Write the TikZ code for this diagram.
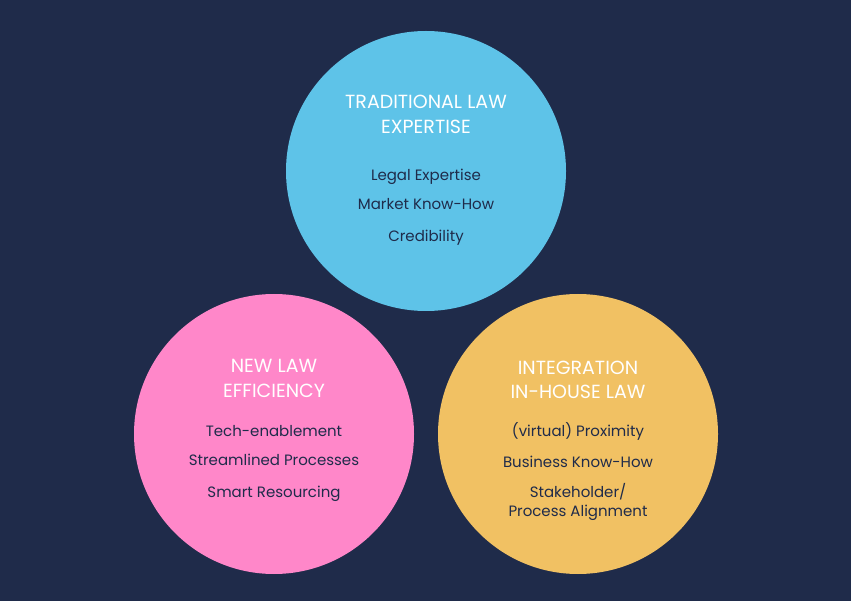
\documentclass[tikz,border=0pt]{standalone}
\usepackage{fontspec}
\setmainfont{Poppins}
\usetikzlibrary{positioning}
\definecolor{bgnavy}{RGB}{31,43,74}
\definecolor{tradblue}{RGB}{94,195,232}
\definecolor{newpink}{RGB}{255,135,201}
\definecolor{houseyellow}{RGB}{241,193,99}
\tikzset{
  circ/.style={circle, minimum size=280pt, inner sep=0pt},
  title/.style={anchor=base, text=white, font=\fontsize{19}{19}\selectfont},
  item/.style={anchor=base, text=bgnavy, font=\fontsize{15}{15}\selectfont},
}
\begin{document}
\begin{tikzpicture}[x=1pt,y=-1pt]
\fill[bgnavy] (0,0) rectangle (851,601);
\useasboundingbox (0,0) rectangle (851,601);

\def\xa{426}
\def\xb{274}
\def\xc{578}

\def\ya{171}
\def\yb{434}

% circles
\node[circ, fill=tradblue] (trad) at (\xa, \ya) {};
\node[circ, fill=newpink] (newlaw) at (\xb, \yb) {};
\node[circ, fill=houseyellow] (inhouse) at (\xc, \yb) {};

% traditional law
\node[title] (tradA) at (\xa, 109) {TRADITIONAL LAW};
\node[title] (tradB) at (\xa, 134) {EXPERTISE};
\node[item] (tradC) at (\xa, 181) {Legal Expertise};
\node[item] (tradD) at (\xa, 210) {Market Know-How};
\node[item] (tradE) at (\xa, 242) {Credibility};

% new law
\node[title] (newA) at (\xb, 373) {NEW LAW};
\node[title] (newB) at (\xb, 397) {EFFICIENCY};
\node[item] (newC) at (\xb, 436) {Tech-enablement};
\node[item] (newD) at (\xb, 465) {Streamlined Processes};
\node[item] (newE) at (\xb, 497) {Smart Resourcing};

% in-house law
\node[title] (houseA) at (\xc, 374) {INTEGRATION};
\node[title] (houseB) at (\xc, 399) {IN-HOUSE LAW};
\node[item] (houseC) at (\xc, 436) {(virtual) Proximity};
\node[item] (houseD) at (\xc, 467) {Business Know-How};
\node[item] (houseE) at (\xc, 497) {Stakeholder/};
\node[item] (houseF) at (\xc, 516) {Process Alignment};
\end{tikzpicture}
\end{document}
